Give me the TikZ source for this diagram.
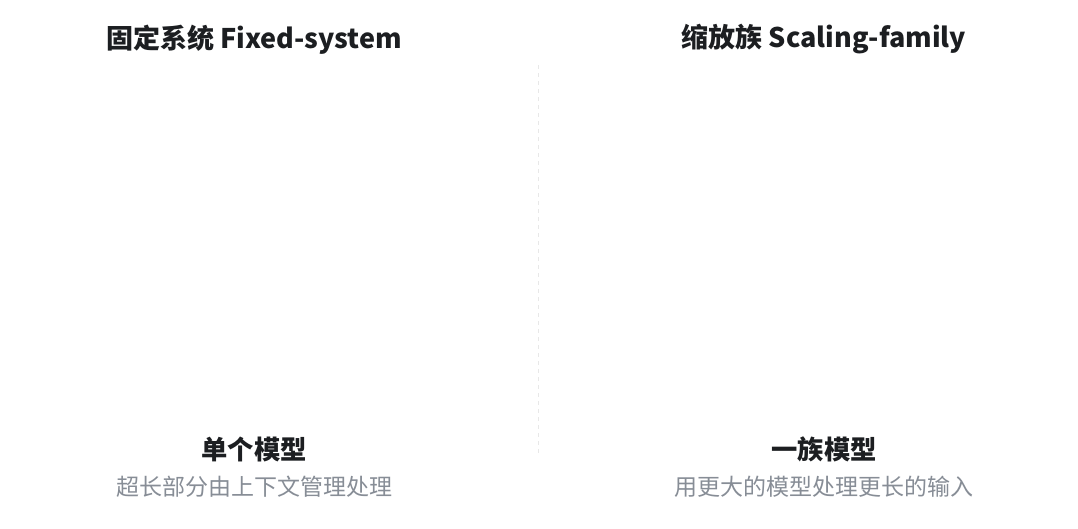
\documentclass[tikz,border=0pt]{standalone}
\usepackage{fontspec}
\newfontfamily\cjk{Noto Sans CJK SC}
\definecolor{titlecol}{HTML}{1C1E21}
\definecolor{subcol}{HTML}{878D96}
\definecolor{sepcol}{HTML}{E8E8E8}
\begin{document}
\begin{tikzpicture}[x=1pt,y=-1pt,
  title/.style={font=\cjk\bfseries\fontsize{27}{31}\selectfont, text=titlecol, inner sep=0pt, anchor=center},
  label/.style={font=\cjk\bfseries\fontsize{26.3}{30}\selectfont, text=titlecol, inner sep=0pt, anchor=center},
  sub/.style={font=\cjk\fontsize{23}{27}\selectfont, text=subcol, inner sep=0pt, anchor=center},
  sep/.style={draw=sepcol, line width=1.2pt, dash pattern=on 4pt off 4pt}]
\useasboundingbox[fill=white] (0,0) rectangle (1078,528);
\node[title] (lt) at (254,39.5) {固定系统 Fixed-system};
\node[title] (rt) at (824,39.5) {缩放族 Scaling-family};
\node[label] (ll) at (254,449) {单个模型};
\node[sub] (ls) at (254,487) {超长部分由上下文管理处理};
\node[label] (rl) at (824,449) {一族模型};
\node[sub] (rs) at (824,487) {用更大的模型处理更长的输入};
\coordinate (s1) at (538.5,65);
\coordinate (s2) at (538.5,455);
\draw[sep] (s1) -- (s2);
\end{tikzpicture}
\end{document}
